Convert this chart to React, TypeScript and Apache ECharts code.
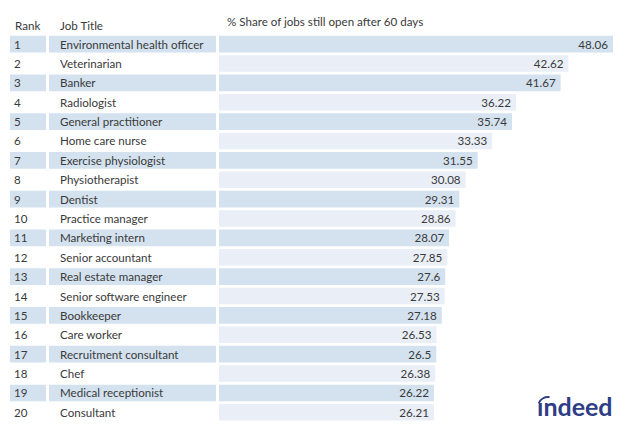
import React, { useEffect, useRef } from "react";
import * as echarts from "echarts";

const ranks = ["1","2","3","4","5","6","7","8","9","10","11","12","13","14","15","16","17","18","19","20"];
const jobTitles = [
  "Environmental health officer","Veterinarian","Banker","Radiologist","General practitioner",
  "Home care nurse","Exercise physiologist","Physiotherapist","Dentist","Practice manager",
  "Marketing intern","Senior accountant","Real estate manager","Senior software engineer","Bookkeeper",
  "Care worker","Recruitment consultant","Chef","Medical receptionist","Consultant",
];
const shares = [48.06,42.62,41.67,36.22,35.74,33.33,31.55,30.08,29.31,28.86,28.07,27.85,27.6,27.53,27.18,26.53,26.5,26.38,26.22,26.21];
const headers = ["Rank", "Job Title", "% Share of jobs still open after 60 days"];

const ODD = "#d4e2ef";
const EVEN_BAR = "#e9eef7";
const TXT = "#3a3a3a";
const FONT = "Lato";
const FS = 11.6;
const LOGO = "#2e3d85";

export default function App() {
  const ref = useRef<HTMLDivElement>(null);
  useEffect(() => {
    if (!ref.current) return;
    const chart = echarts.init(ref.current, null, { renderer: "svg" });
    const top = 34.4, bottom = 435 - 422;
    const cellGrid = (left: number, width: number) => ({ left, width, top, bottom });
    const catAxis = (gi: number, data: string[]) => ({
      type: "category", gridIndex: gi, data, inverse: true, show: false,
    });
    const valAxis = (gi: number, max: any) => ({
      type: "value", gridIndex: gi, min: 0, max, show: false,
    });
    const cellSeries = (gi: number, labels: string[], padLeft: number) => ({
      type: "bar", xAxisIndex: gi, yAxisIndex: gi, barWidth: 16.6,
      data: labels.map((l, i) => ({
        value: 1,
        itemStyle: { color: i % 2 === 0 ? ODD : "rgba(0,0,0,0)" },
      })),
      label: {
        show: true, position: "insideLeft", distance: padLeft,
        formatter: (p: any) => labels[p.dataIndex],
        color: TXT, fontFamily: FONT, fontSize: FS,
      },
      silent: true,
    });
    chart.setOption({
      animation: false,
      grid: [cellGrid(10, 36), cellGrid(49, 167), { left: 219, right: 19, top, bottom }],
      xAxis: [valAxis(0, 1), valAxis(1, 1), valAxis(2, "dataMax")],
      yAxis: [catAxis(0, ranks), catAxis(1, jobTitles), catAxis(2, jobTitles)],
      series: [
        cellSeries(0, ranks, 4),
        cellSeries(1, jobTitles, 11),
        {
          type: "bar", xAxisIndex: 2, yAxisIndex: 2, barWidth: 16.6,
          data: shares.map((v, i) => ({ value: v, itemStyle: { color: i % 2 === 0 ? ODD : EVEN_BAR } })),
          label: {
            show: true, position: "insideRight", distance: 5,
            color: TXT, fontFamily: FONT, fontSize: FS,
            formatter: (p: any) => String(p.value),
          },
        },
      ],
      graphic: [
        { type: "text", left: 15, top: 19, style: { text: headers[0], fill: TXT, font: `${FS}px ${FONT}` } },
        { type: "text", left: 60, top: 19, style: { text: headers[1], fill: TXT, font: `${FS}px ${FONT}` } },
        { type: "text", left: 227, top: 15, style: { text: headers[2], fill: TXT, font: `${FS}px ${FONT}` } },
        { type: "text", left: 537, top: 393, style: { text: "\u0131ndeed", fill: LOGO, font: `bold 25px ${FONT}` } },
        { type: "arc", shape: { cx: 548, cy: 407, r: 10, startAngle: Math.PI * 1.12, endAngle: Math.PI * 1.55 }, style: { stroke: LOGO, lineWidth: 1.8, fill: "none" } },
      ],
    });
    return () => chart.dispose();
  }, []);
  return <div ref={ref} style={{ width: 632, height: 435, position: "absolute", left: 0, top: 0, background: "#fff" }} />;
}
